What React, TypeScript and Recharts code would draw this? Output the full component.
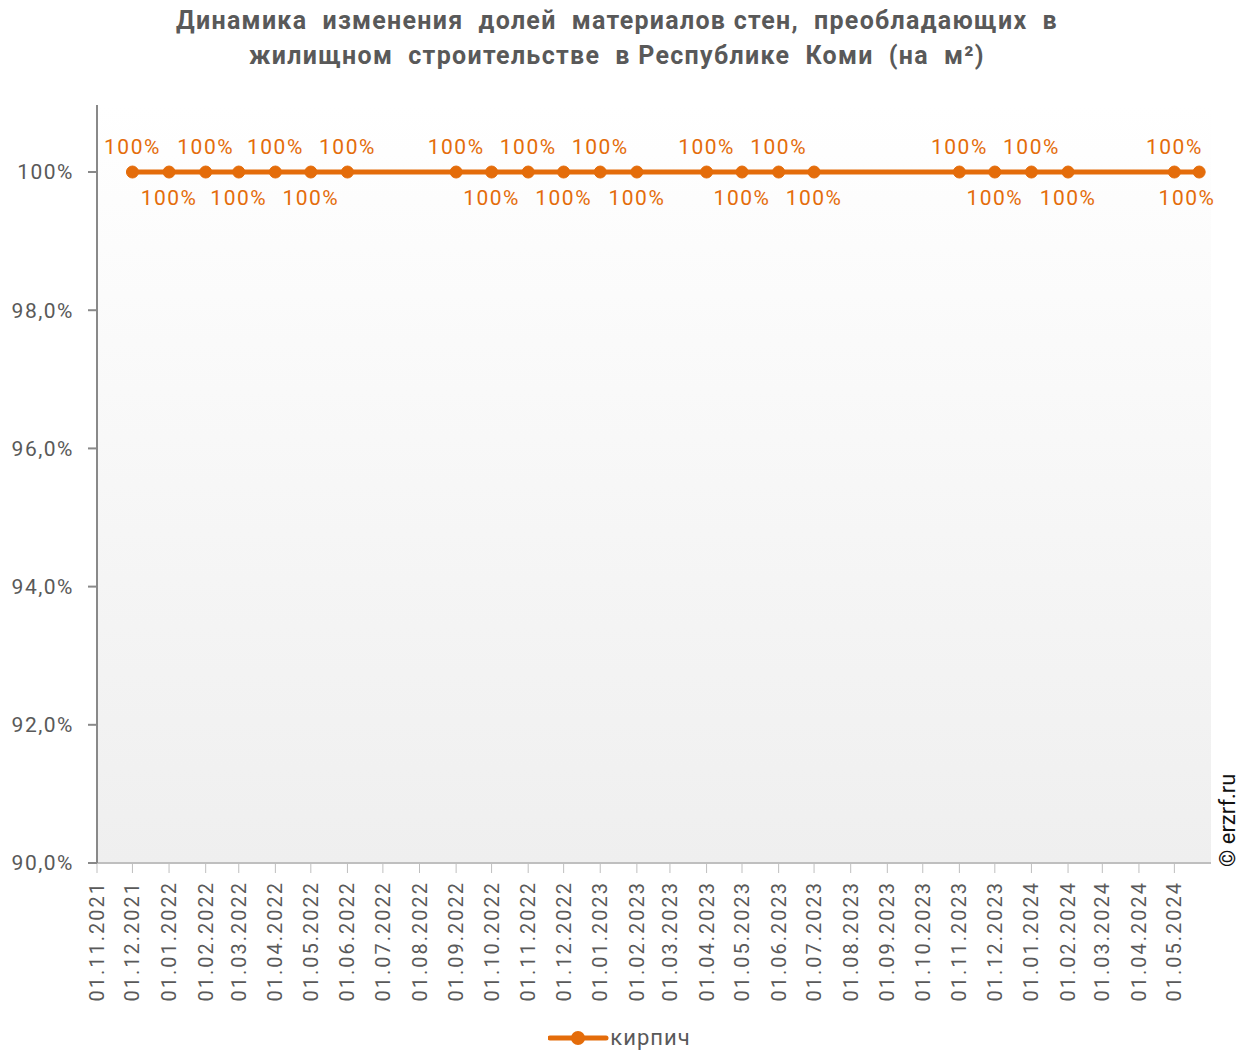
import { LineChart, Line, XAxis, YAxis, CartesianGrid, Legend } from 'recharts';

const title1 = 'Динамика  изменения  долей  материалов стен,  преобладающих  в';
const title2 = 'жилищном  строительстве  в Республике  Коми  (на  м²)';

// x axis tick labels (month starts)
const tickLabels = [
  '01.11.2021', '01.12.2021', '01.01.2022', '01.02.2022', '01.03.2022', '01.04.2022',
  '01.05.2022', '01.06.2022', '01.07.2022', '01.08.2022', '01.09.2022', '01.10.2022',
  '01.11.2022', '01.12.2022', '01.01.2023', '01.02.2023', '01.03.2023', '01.04.2023',
  '01.05.2023', '01.06.2023', '01.07.2023', '01.08.2023', '01.09.2023', '01.10.2023',
  '01.11.2023', '01.12.2023', '01.01.2024', '01.02.2024', '01.03.2024', '01.04.2024',
  '01.05.2024',
];
const axisEnd = '01.06.2024';

// dates that have a value
const pointDates = [
  '01.12.2021', '01.01.2022', '01.02.2022', '01.03.2022', '01.04.2022', '01.05.2022',
  '01.06.2022', '01.09.2022', '01.10.2022', '01.11.2022', '01.12.2022', '01.01.2023',
  '01.02.2023', '01.04.2023', '01.05.2023', '01.06.2023', '01.07.2023', '01.11.2023',
  '01.12.2023', '01.01.2024', '01.02.2024', '01.05.2024', '22.05.2024',
];
const brick = [
  1, 1, 1, 1, 1, 1,
  1, 1, 1, 1, 1, 1,
  1, 1, 1, 1, 1, 1,
  1, 1, 1, 1, 1,
];
const yTicks = [0.9, 0.92, 0.94, 0.96, 0.98, 1.0];

const ORANGE = '#E46C0A';
const GRAY = '#595959';
const FONT = 'Roboto, "Noto Sans", sans-serif';
const W = 1248;
const H = 1051;

const toTime = (s: string) => {
  const [d, m, y] = s.split('.').map(Number);
  return Date.UTC(y, m - 1, d);
};

const data = pointDates.map((d, i) => ({ t: toTime(d), brick: brick[i] }));

// labels alternate above / below, restarting after a gap in the series
const DAY = 86400000;
const sides: boolean[] = [];
data.forEach((p, i) => {
  if (i === 0 || p.t - data[i - 1].t > 40 * DAY) sides.push(true);
  else sides.push(!sides[i - 1]);
});

const fmtY = (v: number) => (v >= 0.999 ? '100%' : (v * 100).toFixed(1).replace('.', ',') + '%');

const XTick = (props: any) => {
  const { x, y, payload } = props;
  const d = new Date(payload.value);
  const dd = String(d.getUTCDate()).padStart(2, '0');
  const mm = String(d.getUTCMonth() + 1).padStart(2, '0');
  return (
    <text
      transform={`translate(${x + 7},${y + 6}) rotate(-90)`}
      textAnchor="end"
      fill={GRAY}
      fontSize={20}
      fontFamily={FONT}
      letterSpacing={2}
    >
      {`${dd}.${mm}.${d.getUTCFullYear()}`}
    </text>
  );
};

const PointLabel = (props: any) => {
  const { x, y, index, value } = props;
  const up = sides[index];
  // keep the label inside the chart near the right edge
  const lx = Math.min(x, W - 61);
  return (
    <text
      x={lx}
      y={up ? y - 18 : y + 33}
      textAnchor="middle"
      fill={ORANGE}
      fontSize={21}
      fontFamily={FONT}
      letterSpacing={1.5}
    >
      {`${Math.round(value * 100)}%`}
    </text>
  );
};

const LegendContent = () => (
  <div
    style={{
      display: 'flex',
      justifyContent: 'center',
      alignItems: 'center',
      height: 40,
      paddingTop: 14,
      paddingLeft: 34,
      boxSizing: 'border-box',
    }}
  >
    <svg width={62} height={20} style={{ marginLeft: -6 }}>
      <line x1={2} y1={10} x2={58} y2={10} stroke={ORANGE} strokeWidth={5} strokeLinecap="round" />
      <circle cx={30} cy={10} r={7} fill={ORANGE} />
    </svg>
    <span style={{ fontFamily: FONT, fontSize: 22, lineHeight: '26px', color: GRAY, letterSpacing: 1 }}>кирпич</span>
  </div>
);

export default function App() {
  return (
    <div style={{ position: 'absolute', left: 0, top: 0, width: W, height: H, background: '#fff' }}>
      <div
        style={{
          position: 'absolute',
          left: 0,
          top: 3,
          width: 1234,
          textAlign: 'center',
          fontFamily: FONT,
          fontWeight: 700,
          fontSize: 25,
          lineHeight: '35px',
          letterSpacing: 1.3,
          color: GRAY,
          whiteSpace: 'pre',
        }}
      >
        {title1}
        {'\n'}
        {title2}
      </div>
      <LineChart width={W} height={H} data={data} margin={{ top: 105, right: 37, left: 0, bottom: 0 }}>
        <defs>
          <linearGradient id="plotBg" x1="0" y1="0" x2="0" y2="1">
            <stop offset="0%" stopColor="#ffffff" />
            <stop offset="100%" stopColor="#efefef" />
          </linearGradient>
        </defs>
        <CartesianGrid horizontal={false} vertical={false} fill="url(#plotBg)" />
        <XAxis
          dataKey="t"
          type="number"
          scale="time"
          domain={[toTime(tickLabels[0]), toTime(axisEnd)]}
          ticks={tickLabels.map(toTime)}
          interval={0}
          tick={<XTick />}
          tickLine={{ stroke: '#bfbfbf' }}
          axisLine={{ stroke: '#bfbfbf', strokeWidth: 2 }}
          tickSize={10}
          height={148}
        />
        <YAxis
          domain={[0.9, 1.0097]}
          ticks={yTicks}
          tickFormatter={fmtY}
          allowDataOverflow
          width={97}
          tick={{ fill: GRAY, fontSize: 21, fontFamily: FONT, letterSpacing: 1.5 }}
          tickLine={{ stroke: '#898989', strokeWidth: 2 }}
          axisLine={{ stroke: '#898989', strokeWidth: 2 }}
          tickSize={9}
          tickMargin={14}
        />
        <Legend verticalAlign="bottom" height={40} content={<LegendContent />} />
        <Line
          type="linear"
          dataKey="brick"
          name="кирпич"
          stroke={ORANGE}
          strokeWidth={5}
          dot={{ r: 6, fill: ORANGE, stroke: ORANGE, strokeWidth: 1 }}
          activeDot={false}
          label={<PointLabel />}
          isAnimationActive={false}
        />
      </LineChart>
      <div
        style={{
          position: 'absolute',
          left: 1215,
          top: 867,
          transform: 'rotate(-90deg)',
          transformOrigin: '0 0',
          fontFamily: FONT,
          fontSize: 22,
          color: '#111',
          whiteSpace: 'nowrap',
        }}
      >
        © erzrf.ru
      </div>
    </div>
  );
}
